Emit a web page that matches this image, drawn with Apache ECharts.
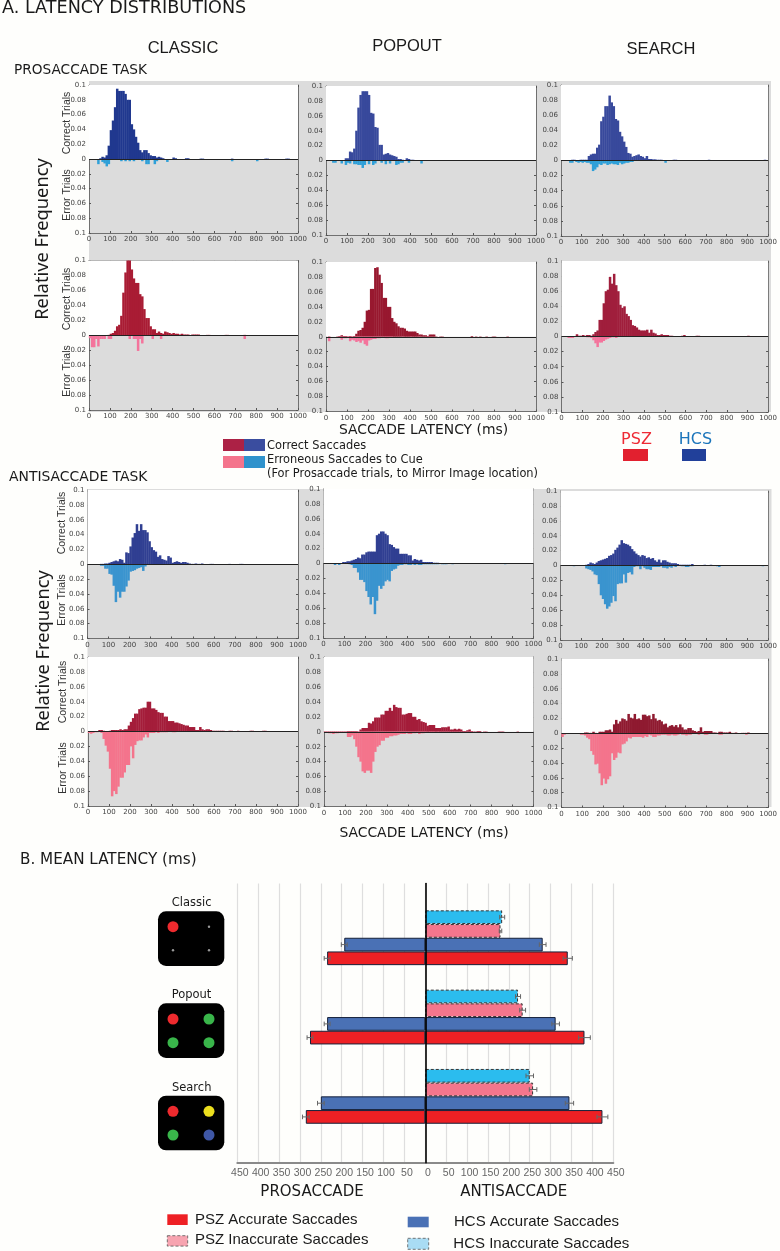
<!DOCTYPE html>
<html><head><meta charset="utf-8">
<style>html,body{margin:0;padding:0;background:#fefefc}#c{width:780px;height:1251px}</style>
<script src="https://cdn.jsdelivr.net/npm/echarts@6/dist/echarts.min.js"></script>
</head><body><div id="c"></div>
<script>
// Histogram values: one entry per 10 ms latency bin, in thousandths of relative frequency.
const classicProHcsCorrect=[0,0,0,0,0,1,3,2,5,18, 39,52,70,95,92,92,92,88,80,80, 47,40,30,22,12,9,12,12,8,5, 4,4,2,3,2,1,0,0,0,0, 2,1,0,0,0,0,1,1,0,0, 0,0,0,.5,.5,0,0,0,0,0, 0,0,0,0,0,0,0,0,.5,0, 0,0,0,0,0,0,0,0,0,0, 0,0,0,0,.5,.5,0,0,0,0, 0,0,0,0,.5,.5];
const classicProHcsError=[0,0,0,0,7,0,4,6,10,7, 0,0,0,0,0,3,0,3,0,3, 0,3,0,0,0,3,0,7,7,0, 0,7,3,0,0,0,0,4,0,0, 0,0,0,0,0,0,0,0,0,0, 0,0,0,0,0,0,0,0,0,0, 0,0,0,0,0,0,0,0,3,0, 0,0,0,0,0,0,0,0,0,0, 3];
const popoutProHcsCorrect=[0,.5,.5,.5,0,0,.5,.5,.5,3, 3,12,11,16,40,71,88,93,93,93, 88,64,63,45,44,21,21,8,9,10, 8,7,6,5,2,2,1,0,3,2, 1,1,.5,0,0,.5,.5,0,0,0, 0,0,0,0,.5,0,0,0,0,0, .5,.5,.5,0,0,0,0,0,0,0, 0,0,0,0,.5,0,0,0,0,0, 0,.5];
const popoutProHcsError=[0,0,0,3,3,0,0,4,0,6, 3,4,0,5,5,6,6,10,6,0, 5,0,6,4,0,0,3,0,5,0, 4,0,0,6,5,3,3,0,0,3, 0,0,0,0,0,4];
const searchProHcsCorrect=[0,0,0,0,.5,1,1,.5,.5,1, 1,1,1,6,8,9,9,17,21,52, 58,72,72,86,77,72,55,53,38,32, 25,18,10,9,5,6,7,8,6,5, 3,6,2,2,1.5,1.5,1,1,1,.5, .5,.5,0,.5,1,1,.5,0,0,0, .5,.5,.5,0,0,0,0,.5,0,0, .5,1,.5,0,0,0,0,0,.5,.5, 0,0,0,0,0,0,0,0,.5,0, 0,0,0,0,0,0,0,0,1];
const searchProHcsError=[0,0,0,0,3,3,0,2,3,2, 3,2,3,3,5,14,12,9,5,6, 4,4,6,5,4,5,5,6,3,5, 4,3,3,2,2,0,0,0,0,0, 0,0,0,0,0,0,0,0,0,0, 3];
const classicProPszCorrect=[0,0,0,0,0,0,0,0,0,.5, 2,3,6,12,14,26,57,84,100,100, 88,76,70,70,55,52,35,23,23,12, 8,8,3,5,3,2,5,4,3,2, 3,2,2,1,2,1,1,1,0,1, 1,1,1,0,0,0,.5,.5,0,0, 0,0,0,0,0,.5,.5,0,0,0, 0,0,0,0,.5];
const classicProPszError=[4,16,16,5,15,5,5,5,0,5, 5,0,0,0,0,0,0,0,0,5, 0,5,5,21,5,11,0,0,0,0, 5,0,0,0,5,0,0,0,0,0, 0,0,0,0,0,0,0,0,0,0, 0,0,0,0,0,0,0,0,0,0, 0,0,0,0,0,0,0,0,0,0, 0,0,0,0,5];
const popoutProPszCorrect=[0,.5,0,0,0,.5,1,2,1,1, .5,1,.5,1,4,8,9,12,20,35, 36,64,64,92,93,83,72,52,52,40, 40,25,20,18,14,12,12,11,8,7, 7,7,7,5,3,3,2,2,1,3, 3,3,.5,0,.5,.5,0,0,0,0, 0,0,0,0,0,0,0,0,0,1, 0,.5,0,.5,0,0,.5,0,0,.5, .5,0,0,0,0,0,.5];
const popoutProPszError=[0,6,0,0,0,0,1,4,2,2, 1,6,4,5,7,6,8,5,10,12, 5,4,3,3,2,2,1,1,2,2, 1,1,0,0,0,0,1,0,0,0, 1,0,0,0,1,0,0,0,1];
const searchProPszCorrect=[0,0,0,0,0,0,0,3,1,1, 2,1,2,2,1,3,6,8,22,22, 44,60,62,79,70,83,68,60,42,38, 40,30,27,22,15,14,12,9,8,8, 8,9,5,9,5,4,2,2,3,2, 2,2,1,1,0,0,.5,0,1,2, 0,.5,0,0,0,1,1,0,0,.5, .5,0,0,0,0,.5,.5,0,0,0, 0,0,0,0,0,0,0,0,0,0, 1];
const searchProPszError=[0,0,0,2,2,2,0,0,0,0, 0,0,1,1,2,5,9,14,8,8, 6,4,3,2,1,1,2,0,0,0];
const classicAntiHcsCorrect=[0,0,0,0,0,0,.5,.5,1,1, 2,3,4,5,4,7,6,2,16,15, 24,36,42,54,45,54,46,46,43,31, 23,19,17,10,12,7,6,5,11,9, 2,3,4,3,2,3,3,2,1,.5, .5,1,.5,.5,1,0,0,0,.5,.5, 0,0,0,0,0,0,0,.5,0,0, 0,0,.5,.5];
const classicAntiHcsError=[0,0,0,0,1,1,2,2,6,6, 13,14,29,51,37,45,37,37,30,22, 10,9,8,6,5,4,9,3,1,1, 1,1,1,.5,1,0,1,0,0,0];
const popoutAntiHcsCorrect=[0,0,0,0,.5,.5,0,.5,0,2, 2,3,3,4,5,6,8,7,12,12, 15,16,16,16,16,38,40,43,43,40, 38,26,25,22,20,20,13,13,13,13, 11,11,4,6,5,4,5,2,2,2, 2,2,1,1,1,.5,.5,.5,.5,.5, 0,0,.5,0,.5,0,0,.5,0,0, 0,0,.5,.5,0,0,0,0,.5];
const popoutAntiHcsError=[0,0,0,0,0,2,0,2,0,0, 0,0,1,2,6,6,12,22,22,25, 37,45,55,45,68,50,30,34,30,24, 22,24,10,8,7,3,2,2,1,1, 2,2,1,2,1,2,2,1,1,1, 1,1,1,1,1,0,1,1,1,0, 0,1,0,0,0,0,0,0,0,0, 0,0,0,0,0,0,0,0,0,0, 0,0,0,0,0,0,1];
const searchAntiHcsCorrect=[0,0,.5,.5,0,0,.5,.5,0,0, 0,0,1,2,4,3,2,4,6,7, 8,9,10,13,14,16,21,24,28,34, 30,29,28,26,22,19,16,14,12,14, 13,10,11,9,10,7,5,8,4,7, 7,5,4,3,3,3,2,1,1,1, 1,1,1,2,.5,.5,.5,.5,.5,1, .5,.5,1,.5,0,0,.5,.5,0,0, .5,.5,0,0,0,0,0,0,0,0, 0,0,0,0,0,0,0,.5];
const searchAntiHcsError=[0,0,0,0,0,0,1,.5,.5,0, 0,0,4,5,6,8,12,13,25,40, 45,52,58,55,50,41,48,25,24,24, 12,23,10,9,12,2,1,1,5,1, 3,5,5,6,2,2,2,2,1,3, 3,4,2,3,1,2,0,0,1,1, 2,2,1,1,0,0,0,0,0,0, 0,0,0,0,0,1,2,0,0,0, 0,0,0,0,0,0,0,0,0,0, 0,0,0,0,0,0,0,1];
const classicAntiPszCorrect=[0,0,0,0,0,2,2,1,.5,.5, 1,2,2,2,2,3,2,3,3,8, 13,18,24,24,30,31,32,32,40,40, 31,31,29,26,25,25,20,20,14,14, 14,12,12,11,10,9,8,8,6,6, 6,2,2,6,3,2,3,3,2,1, 1,1,1,1,1,.5,0,1,1,0, .5,1,.5,.5,.5,0,0,1,1,.5, 0,.5,.5,1,1,.5,0,0,0,0, .5];
const classicAntiPszError=[2,3,2,1,1,0,2,10,19,27, 50,87,80,84,74,62,62,55,45,45, 20,36,18,13,12,12,8,4,8,2, 2,2,1,2,1,1,1,1,0,0, 1,1];
const popoutAntiPszCorrect=[.5,.5,.5,.5,.5,.5,.5,.5,.5,.5, .5,1,1,1,1,1,.5,3,5,5, 5,12,11,14,19,19,19,23,23,28, 28,32,28,36,33,32,32,23,23,24, 25,25,20,20,16,17,14,13,12,8, 9,9,9,5,5,5,6,6,6,7, 3,3,4,3,4,3,1,1,2,3, 1,.5,.5,1,1,0,.5,.5,0,0, 0,0,0,.5,.5,.5,0,0,0,0, 0,0,.5];
const popoutAntiPszError=[1,1,2,2,3,2,2,1,1,1, 1,7,7,5,10,20,34,40,53,55, 52,52,55,40,27,20,18,12,12,8, 8,6,6,5,5,4,3,3,3,2, 3,3,2,2,1,3,2,2,1,0, 1,1,1,0,1,0,0,0,0,0, 0,0,0,0,0,0,0,0,0,0, 1];
const searchAntiPszCorrect=[0,0,0,0,0,0,0,0,0,0, 0,1,1,.5,.5,2,.5,0,2,2, 2,4,4,5,2,12,18,13,16,20, 19,17,26,21,20,26,19,20,18,25, 25,23,24,19,26,20,17,18,16,12, 13,8,10,11,9,11,8,12,8,5, 5,7,7,4,3,2,3,8,2,3, 3,3,3,1,1,.5,2,2,1,1, 1,2,.5,.5,1,0,0,.5,.5,.5, 1];
const searchAntiPszError=[5,2,1,1,1,.5,.5,1,1,2, 2,3,6,8,24,29,42,41,54,70, 61,68,62,58,27,36,33,26,27,15, 14,11,6,7,5,5,5,5,5,6, 4,5,2,3,5,5,3,3,2,2, 2,3,3,2,3,3,2,1,2,2, 3,2,2,1,1,1,2,1,1,2, 2,1,1,1,1,1,2,2,1,1, 1,1,1,1,1,1,1,1,1,2];

// Mean latency chart values
const groupNames=['Classic','Popout','Search'];
const pszAccuratePro=[-235,-276,-286], pszAccurateAnti=[341,381,424];
const hcsAccuratePro=[-194,-235,-250], hcsAccurateAnti=[281,312,345];
const pszInaccurateAnti=[180,233,258];
const hcsInaccurateAnti=[184,222,250];
const pszAccurateProErr=[7,7,8], pszAccurateAntiErr=[11,14,13];
const hcsAccurateProErr=[7,7,8], hcsAccurateAntiErr=[8,9,10];
const pszInaccurateAntiErr=[3,7,9];
const hcsInaccurateAntiErr=[6,6,9];

const C={gray:'#dcdcdc'};

const panels=[
 {l:89,r:298,t:85,b:233,cor:classicProHcsCorrect,err:classicProHcsError,c:'#20388f',e:'#2fa0d8'},
 {l:326,r:536,t:86,b:235,cor:popoutProHcsCorrect,err:popoutProHcsError,c:'#38499c',e:'#2fa0d8'},
 {l:561,r:771,t:85,b:236,cor:searchProHcsCorrect,err:searchProHcsError,c:'#38499c',e:'#2fa0d8'},
 {l:89,r:298,t:260.5,b:410,cor:classicProPszCorrect,err:classicProPszError,c:'#a91c34',e:'#f4749c'},
 {l:326,r:536,t:262,b:411.5,cor:popoutProPszCorrect,err:popoutProPszError,c:'#98182f',e:'#f4749c'},
 {l:561.5,r:771,t:261,b:412,cor:searchProPszCorrect,err:searchProPszError,c:'#a01e3c',e:'#f4749c'},
 {l:87.5,r:298,t:490,b:638.5,cor:classicAntiHcsCorrect,err:classicAntiHcsError,c:'#303f92',e:'#3a94cf'},
 {l:323.5,r:533.5,t:489,b:638,cor:popoutAntiHcsCorrect,err:popoutAntiHcsError,c:'#303f92',e:'#3a94cf'},
 {l:560.5,r:770.5,t:491,b:640,cor:searchAntiHcsCorrect,err:searchAntiHcsError,c:'#303f92',e:'#3a94cf'},
 {l:88,r:298,t:657,b:806,cor:classicAntiPszCorrect,err:classicAntiPszError,c:'#a41d3a',e:'#f4748c'},
 {l:324,r:533.5,t:657,b:806.5,cor:popoutAntiPszCorrect,err:popoutAntiPszError,c:'#a41d3a',e:'#f4748c'},
 {l:561.5,r:771,t:659,b:807.5,cor:searchAntiPszCorrect,err:searchAntiPszError,c:'#8f1a30',e:'#f4748c'}
];

const grid=[],xAxis=[],yAxis=[],series=[];
const axLine={lineStyle:{color:'#707070',width:1}};
panels.forEach((p,i)=>{
  grid.push({left:p.l,top:p.t,width:p.r-p.l,height:p.b-p.t,show:false});
  const xb={type:'value',gridIndex:i,min:0,max:1000,interval:100,splitLine:{show:false},axisLine:{show:true,onZero:false,...axLine},axisTick:{show:true,inside:true,length:2,lineStyle:{color:'#555'}}};
  const yb={type:'value',gridIndex:i,min:-100,max:100,interval:20,splitLine:{show:false},axisLine:{show:true,onZero:false,...axLine},axisTick:{show:true,inside:true,length:2,lineStyle:{color:'#555'}}};
  xAxis.push({...xb,position:'bottom',axisLabel:{fontFamily:'DejaVu Sans',fontSize:7,color:'#444',margin:3,hideOverlap:false,showMinLabel:true,showMaxLabel:true,formatter:v=>String(v)}});
  yAxis.push({...yb,position:'left',axisLabel:{fontFamily:'DejaVu Sans',fontSize:7,color:'#444',margin:3,hideOverlap:false,showMinLabel:true,showMaxLabel:true,formatter:v=>String(Math.abs(v)/1000)}});
  xAxis.push({...xb,position:'top',axisLabel:{show:false}});
  yAxis.push({...yb,position:'right',axisLabel:{show:false}});
  const ax=i*2;
  series.push({type:'bar',name:'correct'+i,xAxisIndex:ax,yAxisIndex:ax,barWidth:2.5,barGap:'-100%',z:3,
    data:p.cor.map((v,k)=>[k*10+5,v]),itemStyle:{color:p.c},
    markArea:{silent:true,z:1,itemStyle:{color:'#fff'},data:[[{yAxis:0},{yAxis:100}]]},
    markLine:{silent:true,symbol:'none',z:5,label:{show:false},lineStyle:{color:'#222',width:1,type:'solid'},data:[{yAxis:0}]}});
  series.push({type:'bar',name:'error'+i,xAxisIndex:ax,yAxisIndex:ax,barWidth:2.5,barGap:'-100%',z:3,
    data:p.err.map((v,k)=>[k*10+5,-v]),itemStyle:{color:p.e}});
});

// Mean latency chart: bar grid (groups) + axis grid (full height)
const bg=grid.length;
grid.push({left:237.3,right:166.7,top:898.1,height:237.9,show:false});
grid.push({left:237.3,right:166.7,top:883.5,height:279.2,show:false});
xAxis.push({type:'value',gridIndex:bg,min:-450,max:450,interval:50,show:false});
yAxis.push({type:'category',gridIndex:bg,data:groupNames,inverse:true,show:false});
xAxis.push({type:'value',gridIndex:bg+1,min:-450,max:450,interval:50,z:0,
  axisLine:{onZero:false,lineStyle:{color:'#8a8a8a',width:2}},axisTick:{show:false},
  splitLine:{show:true,lineStyle:{color:'#dedede',width:1.2}},
  axisLabel:{fontFamily:"'Liberation Sans Narrow','Liberation Sans'",fontSize:10.5,color:'#666',margin:5,padding:[0,0,0,5],hideOverlap:false,showMinLabel:true,showMaxLabel:true,formatter:v=>String(Math.abs(v))}});
yAxis.push({type:'value',gridIndex:bg+1,min:0,max:1,z:10,axisLine:{show:true,onZero:true,lineStyle:{color:'#000',width:1.6}},axisTick:{show:false},axisLabel:{show:false},splitLine:{show:false}});
const xi=panels.length*2, yi=panels.length*2;
const bh=13.7;
function barS(name,stack,vals,color,dashed){
  return {type:'bar',name,stack,xAxisIndex:xi,yAxisIndex:yi,data:vals,barWidth:bh,barGap:'0%',z:3,
    itemStyle:{color,borderColor:dashed?'#333':'#16213a',borderWidth:1,borderType:dashed?[3,2]:'solid'}};
}
series.push(barS('HCS Inaccurate','hi',hcsInaccurateAnti,'#2bbcee',true));
series.push(barS('PSZ Inaccurate','pi',pszInaccurateAnti,'#f4768d',true));
series.push(barS('HCS Accurate pro','ha',hcsAccuratePro,'#4a71b5',false));
series.push(barS('HCS Accurate anti','ha',hcsAccurateAnti,'#4a71b5',false));
series.push(barS('PSZ Accurate pro','pa',pszAccuratePro,'#ee2024',false));
series.push(barS('PSZ Accurate anti','pa',pszAccurateAnti,'#ee2024',false));
const errRows=[];
[[hcsInaccurateAnti,hcsInaccurateAntiErr,0],[pszInaccurateAnti,pszInaccurateAntiErr,1],
 [hcsAccuratePro,hcsAccurateProErr,2],[hcsAccurateAnti,hcsAccurateAntiErr,2],
 [pszAccuratePro,pszAccurateProErr,3],[pszAccurateAnti,pszAccurateAntiErr,3]].forEach(([v,e,slot])=>{
   v.forEach((val,g)=>errRows.push([g,val,e[g],slot]));
});
series.push({type:'custom',name:'errors',xAxisIndex:xi,yAxisIndex:yi,z:6,silent:true,data:errRows,
  encode:{x:1,y:0},
  renderItem(params,api){
    const g=api.value(0),v=api.value(1),e=api.value(2),s=api.value(3);
    const off=(s-1.5)*bh;
    const a=api.coord([v-e,g]),b=api.coord([v+e,g]);
    const y=a[1]+off,st={stroke:'#666',lineWidth:1,fill:null};
    return {type:'group',children:[
      {type:'line',shape:{x1:a[0],y1:y,x2:b[0],y2:y},style:st},
      {type:'line',shape:{x1:a[0],y1:y-2.3,x2:a[0],y2:y+2.3},style:st},
      {type:'line',shape:{x1:b[0],y1:y-2.3,x2:b[0],y2:y+2.3},style:st}]};
  }});

// Annotation layer
const DJ='DejaVu Sans', LS='Liberation Sans';
const g=[];
const T=(x,y,text,size,o={})=>g.push({type:'text',x,y,rotation:o.rot||0,z:100,style:{text,fontFamily:o.font||DJ,fontSize:size,fill:o.color||'#1a1a1a',textAlign:o.align||'left',textVerticalAlign:'middle'}});
const R=(x,y,w,h,fill,o={})=>g.push({type:'rect',z:o.z===undefined?90:o.z,shape:{x,y,width:w,height:h,r:o.r||0},style:{fill,stroke:o.stroke||null,lineWidth:o.lw||0,lineDash:o.dash||null}});
const O=(cx,cy,r,fill)=>g.push({type:'circle',z:95,shape:{cx,cy,r},style:{fill}});
R(89,81,682,331,C.gray,{z:-10});
R(87.5,489,684,318,C.gray,{z:-10});
T(2,8,'A. LATENCY DISTRIBUTIONS',17.6);
T(183,48,'CLASSIC',16.5,{font:LS,align:'center'});
T(407,46,'POPOUT',16.5,{font:LS,align:'center'});
T(661,49,'SEARCH',16.5,{font:LS,align:'center'});
T(14,70,'PROSACCADE TASK',13.7);
T(9,477,'ANTISACCADE TASK',13.9);
T(43,239,'Relative Frequency',18.3,{rot:Math.PI/2,align:'center',font:'Noto Sans'});
T(44,651,'Relative Frequency',18.3,{rot:Math.PI/2,align:'center',font:'Noto Sans'});
[[67,123,195],[67,299,371],[62.5,523,600],[63.5,692,768]].forEach(([x,a,b])=>{
  T(x,a,'Correct Trials',10.5,{rot:Math.PI/2,align:'center',color:'#333',font:LS});
  T(x,b,'Error Trials',10.5,{rot:Math.PI/2,align:'center',color:'#333',font:LS});
});
T(423.5,430,'SACCADE LATENCY (ms)',13.9,{align:'center'});
T(424,833,'SACCADE LATENCY (ms)',13.9,{align:'center'});
R(223,439,21,12,'#ac2145');R(244,439,21,12,'#3a4d9f');
R(223,456,21,12,'#f4748c');R(244,456,21,12,'#2f92cc');
T(267,446,'Correct Saccades',11.4);
T(267,460,'Erroneous Saccades to Cue',11.4);
T(267,474,'(For Prosaccade trials, to Mirror Image location)',11.4);
T(636.5,440,'PSZ',16,{align:'center',color:'#ee2b35'});
T(695.5,440,'HCS',16,{align:'center',color:'#1b75bb'});
R(623,449,25,12,'#e2202f');R(682,449,24,12,'#21409a');
T(20,860,'B. MEAN LATENCY (ms)',15.2);
T(191.7,903,'Classic',11.5,{align:'center'});
T(191.5,995,'Popout',11.5,{align:'center'});
T(191.7,1088.5,'Search',11.5,{align:'center'});
const bx=158,bw=66.3,bhh=54.6;
[911.3,1003.3,1095.7].forEach(y=>R(bx,y,bw,bhh,'#000',{r:8}));
O(173,926.7,5.5,'#ee2a2e');O(209,926.7,1.2,'#999');O(173,950.3,1.2,'#999');O(209,950.3,1.2,'#999');
O(173,1019,5.5,'#ee2a2e');O(209,1019,5.5,'#39b54a');O(173,1042.7,5.5,'#39b54a');O(209,1042.7,5.5,'#39b54a');
O(173,1111.3,5.5,'#ee2a2e');O(209,1111.3,5.5,'#ecdf1e');O(173,1135,5.5,'#39b54a');O(209,1135,5.5,'#3f57a6');
T(312,1191.7,'PROSACCADE',15,{align:'center'});
T(513.7,1191.7,'ANTISACCADE',15,{align:'center'});
R(167.3,1214.3,20.4,10.7,'#ee2024');
R(167.3,1235.7,20.4,10.4,'#f7a4b0',{stroke:'#555',lw:.8,dash:[3,2]});
R(407.7,1216.7,21,10.6,'#4a71b5');
R(407.7,1238.3,21,11,'#a9dcf4',{stroke:'#555',lw:.8,dash:[3,2]});
T(195,1220,'PSZ Accurate Saccades',15,{font:LS});
T(195,1240.3,'PSZ Inaccurate Saccades',15,{font:LS});
T(454,1222,'HCS Accurate Saccades',15,{font:LS});
T(453.3,1244,'HCS Inaccurate Saccades',15,{font:LS});

const chart=echarts.init(document.getElementById('c'),null,{renderer:'canvas'});
chart.setOption({animation:false,backgroundColor:'#fefefc',tooltip:{show:false},grid,xAxis,yAxis,series,graphic:{elements:g}});
</script></body></html>
